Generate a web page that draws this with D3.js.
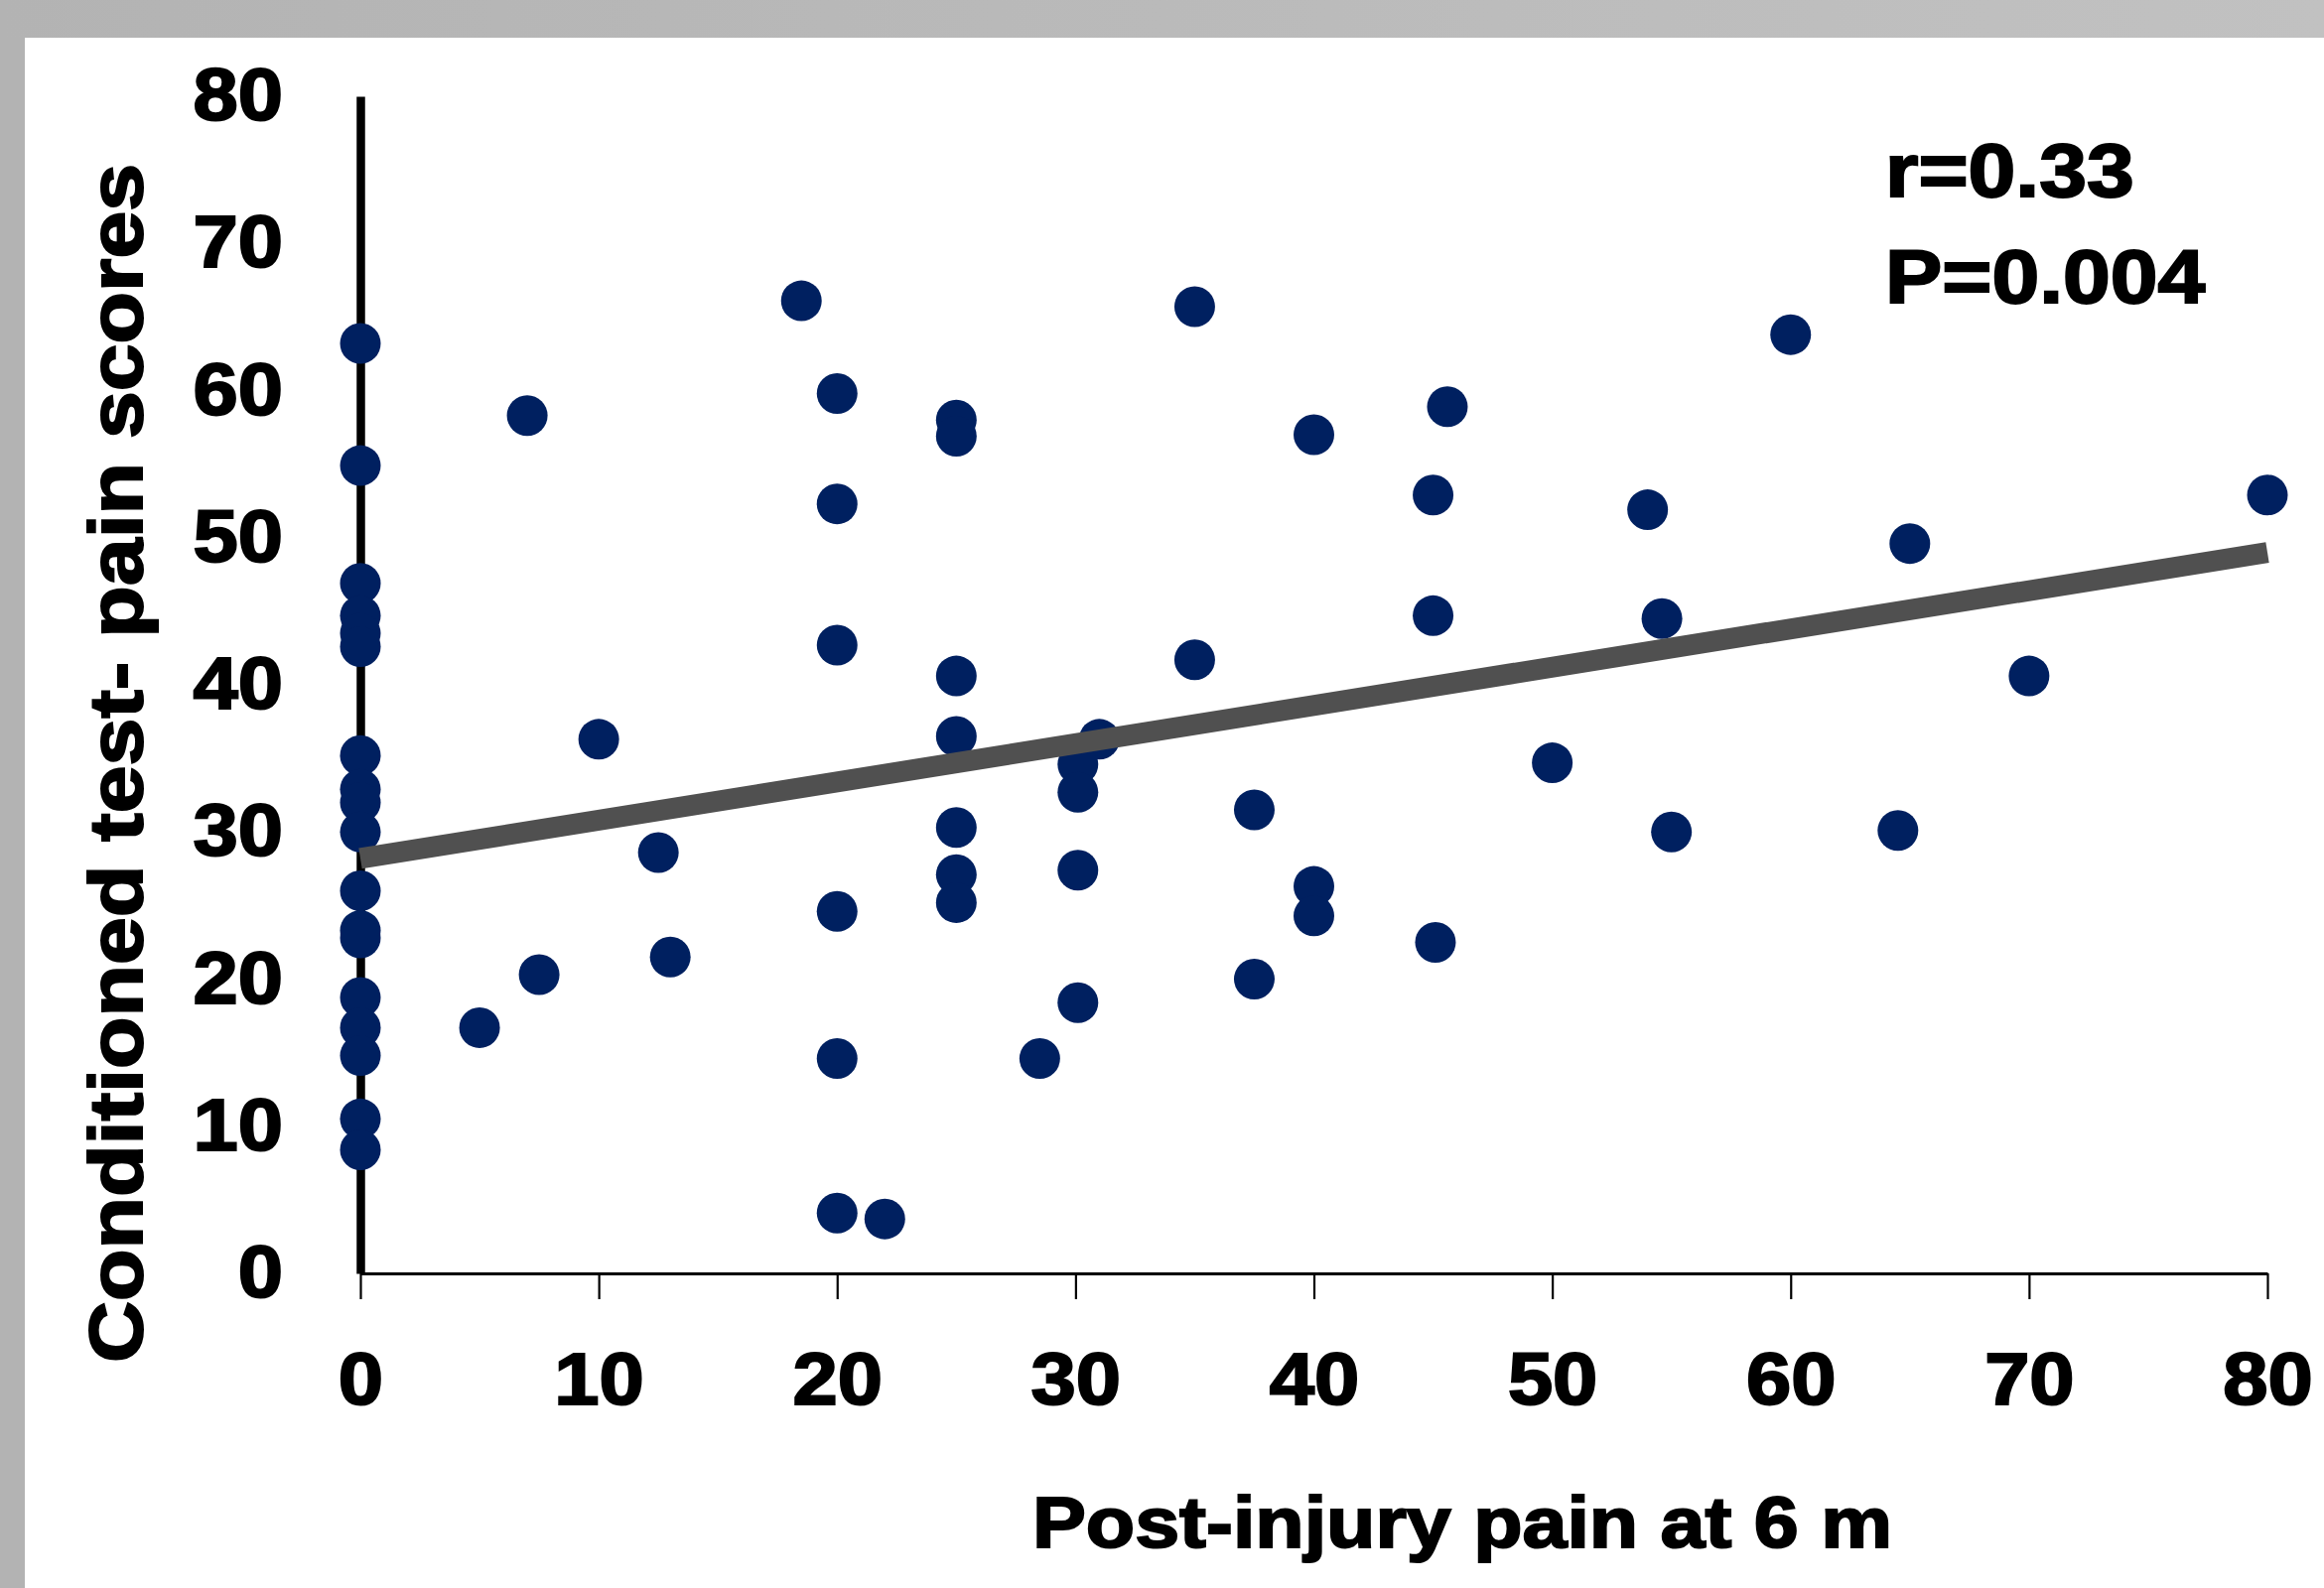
<!DOCTYPE html>
<html><head><meta charset="utf-8">
<script src="https://cdn.jsdelivr.net/npm/d3@7"></script>
<style>
body{margin:0;background:#fff}
svg{display:block}
text{font-family:"Liberation Sans",Arial,sans-serif;font-weight:bold;fill:#000;stroke:#000;stroke-width:2px;paint-order:stroke}
</style>
</head><body>
<svg id="chart" width="2341" height="1600"></svg>
<script>
// ---- data ----
const painX = [0,0,0,0,0,0,0,0,0,0,0,0,0,0,0,0,0,0,
  18.5,7.0,20,25,25,20,20,25,25,10,31,30.1,30.1,25,12.5,25,25,30.1,20,13,7.5,5,20,28.5,30.1,20,22,
  35,35,37.5,37.5,40,40,40,45.6,45,45,45.1,50,54,54.6,55,60,65,64.5,70,80];
const scoreY = [63.2,54.9,46.9,44.7,43.5,42.6,35.2,32.9,32.0,30.0,26.0,23.3,22.8,18.75,16.7,14.8,10.5,8.4,
  66.1,58.3,59.8,58.0,56.9,52.3,42.7,40.6,36.5,36.3,36.3,34.6,32.7,30.3,28.6,27.1,25.2,27.4,24.6,21.5,20.3,16.7,14.6,14.6,18.4,4.1,3.7,
  65.7,41.7,31.5,20.0,57.0,26.3,24.3,58.9,52.9,44.7,22.5,34.7,51.9,44.5,30.0,63.8,49.6,30.1,40.6,52.9];
const xTicks = [0,10,20,30,40,50,60,70,80];
const yTicks = [0,10,20,30,40,50,60,70,80];
const trendX = [0,80];
const trendY = [28.2,49.0];
const statLines = ["r=0.33","P=0.004"];
const xTitle = "Post-injury pain at 6 m";
const yTitle = "Conditioned test- pain scores";

// ---- drawing ----
const svg = d3.select("#chart");
const defs = svg.append("defs");
const g1 = defs.append("linearGradient").attr("id","topbar").attr("x1","0").attr("x2","1").attr("y1","0").attr("y2","0");
g1.append("stop").attr("offset","0").attr("stop-color","#b3b3b3");
g1.append("stop").attr("offset","1").attr("stop-color","#c1c1c1");

svg.append("rect").attr("x",0).attr("y",0).attr("width",2341).attr("height",1600).attr("fill","#b3b3b3");
svg.append("rect").attr("x",0).attr("y",0).attr("width",2341).attr("height",38).attr("fill","url(#topbar)");
svg.append("rect").attr("x",25).attr("y",38).attr("width",2316).attr("height",1562).attr("fill","#ffffff");

const x = d3.scaleLinear().domain([0,80]).range([363,2284]);
const y = d3.scaleLinear().domain([0,80]).range([1283,97]);

function stretch(sel,k){
  sel.each(function(){
    const w=this.getComputedTextLength();
    this.setAttribute("textLength",(w*k).toFixed(1));
    this.setAttribute("lengthAdjust","spacingAndGlyphs");
  });
}

// x axis
const gx = svg.append("g").attr("transform","translate(0,1283)")
  .call(d3.axisBottom(x).tickValues(xTicks).tickSize(26).tickSizeOuter(0).tickFormat(d3.format("d")));
gx.attr("font-family",null).attr("font-size",null);
gx.select(".domain").attr("stroke","#000").attr("stroke-width",2.8);
gx.selectAll(".tick line").attr("stroke","#000").attr("stroke-width",2.2);
gx.selectAll(".tick text").attr("y",132).attr("dy",0).attr("font-size",74).attr("fill","#000");
stretch(gx.selectAll(".tick text"),1.1);

// y axis
const gy = svg.append("g").attr("transform","translate(363,0)")
  .call(d3.axisLeft(y).tickValues(yTicks).tickSize(0).tickSizeOuter(0).tickFormat(d3.format("d")));
gy.attr("font-family",null).attr("font-size",null);
gy.select(".domain").attr("stroke","#000").attr("stroke-width",8.5);
gy.selectAll(".tick text").attr("x",-78).attr("dy","0.32em").attr("font-size",74).attr("fill","#000");
stretch(gy.selectAll(".tick text"),1.1);

// points
svg.append("g").selectAll("circle").data(painX.map((v,i)=>[v,scoreY[i]])).join("circle")
  .attr("cx",d=>x(d[0])).attr("cy",d=>y(d[1])).attr("r",20.5).attr("fill","#002060");

// trend line
svg.append("line")
  .attr("x1",x(trendX[0])).attr("y1",y(trendY[0]))
  .attr("x2",x(trendX[1])).attr("y2",y(trendY[1]))
  .attr("stroke","#505050").attr("stroke-width",21).attr("stroke-linecap","butt");

// stats text
const st = svg.append("g").selectAll("text").data(statLines).join("text")
  .attr("x",1899).attr("y",(d,i)=>198+i*107).attr("font-size",76).text(d=>d);
stretch(st,1.13);

// axis titles
svg.append("text").attr("x",1473).attr("y",1559).attr("text-anchor","middle").attr("font-size",73)
  .attr("textLength",866).attr("lengthAdjust","spacingAndGlyphs").text(xTitle);
svg.append("text").attr("transform","translate(143,769) rotate(-90)").attr("text-anchor","middle").attr("font-size",76)
  .attr("textLength",1208).attr("lengthAdjust","spacingAndGlyphs").text(yTitle);
</script>
</body></html>
